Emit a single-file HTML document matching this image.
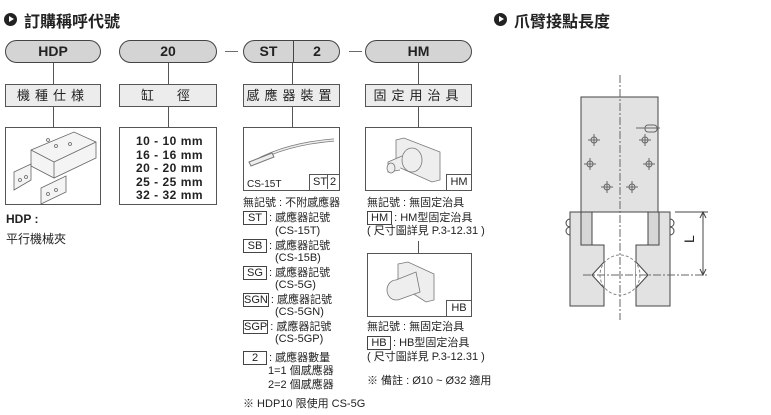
<!DOCTYPE html>
<html><head><meta charset="utf-8"><style>
body{margin:0;width:771px;height:415px;background:#fff;position:relative;overflow:hidden;font-family:"Liberation Sans","Noto Sans CJK TC",sans-serif;color:#222}
.a{position:absolute;white-space:nowrap}
.pill{position:absolute;height:23px;top:40px;background:#d4d4d4;border:1px solid #444;border-radius:12px;box-sizing:border-box;font-weight:bold;font-size:14px;text-align:center;line-height:21px}
.lab{position:absolute;top:84px;height:23px;background:#ececec;border:1px solid #555;box-sizing:border-box;font-size:13px;text-align:center;line-height:21px;letter-spacing:5px}
.box{position:absolute;border:1px solid #555;box-sizing:border-box;background:#fff}
.v{position:absolute;width:1px;background:#555}
.t{position:absolute;font-size:11px;white-space:nowrap;line-height:13px}
.k{display:inline-block;border:1px solid #444;padding:0 3px;min-width:16px;text-align:center;line-height:12px;margin-right:2px}
.ic{position:absolute;width:13px;height:13px;background:#222;border-radius:50%}
.ic:after{content:"";position:absolute;left:5px;top:3px;border-left:5px solid #fff;border-top:3.5px solid transparent;border-bottom:3.5px solid transparent}
</style></head><body>
<div class="ic" style="left:4px;top:13px"></div>
<div class="a" style="left:24px;top:8px;font-size:16px;font-weight:bold">訂購稱呼代號</div>
<div class="ic" style="left:494px;top:13px"></div>
<div class="a" style="left:514px;top:8px;font-size:16px;font-weight:bold">爪臂接點長度</div>

<div class="pill" style="left:5px;width:96px">HDP</div>
<div class="pill" style="left:119px;width:98px">20</div>
<div class="a" style="left:225px;top:43px;font-size:13px;color:#555">—</div>
<div class="pill" style="left:243px;width:97px"><span style="position:absolute;left:0;width:49px">ST</span><span style="position:absolute;left:49px;top:-1px;height:23px;border-left:1px solid #444"></span><span style="position:absolute;left:49px;width:48px">2</span></div>
<div class="a" style="left:349px;top:43px;font-size:13px;color:#555">—</div>
<div class="pill" style="left:365px;width:107px">HM</div>

<div class="v" style="left:53px;top:63px;height:64px"></div>
<div class="v" style="left:168px;top:63px;height:64px"></div>
<div class="v" style="left:292px;top:63px;height:64px"></div>
<div class="v" style="left:418px;top:63px;height:64px"></div>

<div class="lab" style="left:5px;width:96px">機種仕様</div>
<div class="lab" style="left:119px;width:98px">缸　徑</div>
<div class="lab" style="left:243px;width:97px">感應器裝置</div>
<div class="lab" style="left:365px;width:107px">固定用治具</div>

<div class="box" style="left:5px;top:127px;width:96px;height:78px">
<svg width="94" height="76" viewBox="0 0 94 76" fill="#f4f4f4" stroke="#666" stroke-width="0.8">
<polygon points="25,22 68,4 90,14 90,30 48,50 25,38"/><polygon points="8,44 25,36 25,52 8,62"/><polygon points="35,60 60,48 60,64 35,76"/><line x1="25" y1="22" x2="48" y2="34"/><line x1="48" y1="34" x2="90" y2="14"/><line x1="48" y1="34" x2="48" y2="50"/>
<circle cx="42" cy="12" r="1.5"/><circle cx="50" cy="18" r="1.5"/><circle cx="64" cy="16" r="1.5"/><circle cx="14" cy="52" r="1.5"/><circle cx="20" cy="49" r="1.5"/><circle cx="42" cy="66" r="1.5"/><circle cx="50" cy="62" r="1.5"/></svg></div>
<div class="box" style="left:119px;top:127px;width:98px;height:78px;font-size:12px;font-weight:bold;letter-spacing:0.5px;line-height:13.5px;padding:7px 0 0 16px">10 - 10 mm<br>16 - 16 mm<br>20 - 20 mm<br>25 - 25 mm<br>32 - 32 mm</div>
<div class="a" style="left:6px;top:212px;font-size:12px;font-weight:bold">HDP :</div>
<div class="a" style="left:6px;top:230px;font-size:12px">平行機械夾</div>

<div class="box" style="left:243px;top:127px;width:97px;height:64px">
<svg width="95" height="62" style="position:absolute;left:0;top:0" fill="none" stroke="#777" stroke-width="1"><path d="M8,35 Q40,16 90,12" stroke-width="3"/><path d="M8,35 Q40,16 90,12" stroke="#eee" stroke-width="1.5"/><polygon points="5,34 28,25 30,29 7,38" fill="#eee"/></svg>
<div class="t" style="left:3px;top:50px;font-size:10px">CS-15T</div>
<div style="position:absolute;right:-1px;bottom:-1px;width:29px;height:15px;border:1px solid #555;font-size:11px;line-height:14px"><span style="position:absolute;left:3px">ST</span><span style="position:absolute;left:17px;top:0;height:14px;border-left:1px solid #555;padding-left:2px">2</span></div></div>
<div class="box" style="left:365px;top:127px;width:107px;height:64px">
<svg width="105" height="62" style="position:absolute;left:0;top:0" fill="#eee" stroke="#777" stroke-width="0.8"><polygon points="30,12 38,10 74,24 74,52 66,54 30,38"/><ellipse cx="46" cy="32" rx="10" ry="12"/><path d="M36,28 L22,34 L22,44 L34,42"/><ellipse cx="25" cy="40" rx="4" ry="5"/></svg>
<div style="position:absolute;right:-1px;bottom:-1px;width:24px;height:15px;border:1px solid #555;font-size:11px;line-height:14px;text-align:center">HM</div></div>

<div class="t" style="left:243px;top:197px">無記號 : 不附感應器</div>
<div class="t" style="left:243px;top:211px"><span class="k">ST</span>: 感應器記號</div>
<div class="t" style="left:275px;top:225px">(CS-15T)</div>
<div class="t" style="left:243px;top:239px"><span class="k">SB</span>: 感應器記號</div>
<div class="t" style="left:275px;top:252px">(CS-15B)</div>
<div class="t" style="left:243px;top:266px"><span class="k">SG</span>: 感應器記號</div>
<div class="t" style="left:275px;top:279px">(CS-5G)</div>
<div class="t" style="left:243px;top:293px"><span class="k" style="padding:0">SGN</span>: 感應器記號</div>
<div class="t" style="left:275px;top:306px">(CS-5GN)</div>
<div class="t" style="left:243px;top:320px"><span class="k" style="padding:0">SGP</span>: 感應器記號</div>
<div class="t" style="left:275px;top:333px">(CS-5GP)</div>
<div class="t" style="left:243px;top:351px"><span class="k">2</span>: 感應器數量</div>
<div class="t" style="left:268px;top:365px">1=1 個感應器</div>
<div class="t" style="left:268px;top:379px">2=2 個感應器</div>
<div class="t" style="left:243px;top:398px">※ HDP10 限使用 CS-5G</div>

<div class="t" style="left:367px;top:197px">無記號 : 無固定治具</div>
<div class="t" style="left:367px;top:211px"><span class="k">HM</span>: HM型固定治具</div>
<div class="t" style="left:367px;top:225px">( 尺寸圖詳見 P.3-12.31 )</div>
<div class="v" style="left:418px;top:241px;height:12px"></div>
<div class="box" style="left:367px;top:253px;width:105px;height:64px">
<svg width="103" height="62" style="position:absolute;left:0;top:0" fill="#eee" stroke="#777" stroke-width="0.8"><polygon points="30,10 40,8 66,20 66,46 58,48 30,30"/><ellipse cx="28" cy="36" rx="9" ry="10"/><path d="M28,26 L48,18 L52,38 L30,46"/></svg>
<div style="position:absolute;right:-1px;bottom:-1px;width:24px;height:15px;border:1px solid #555;font-size:11px;line-height:14px;text-align:center">HB</div></div>
<div class="t" style="left:367px;top:321px">無記號 : 無固定治具</div>
<div class="t" style="left:367px;top:336px"><span class="k">HB</span>: HB型固定治具</div>
<div class="t" style="left:367px;top:351px">( 尺寸圖詳見 P.3-12.31 )</div>
<div class="t" style="left:367px;top:375px">※ 備註 : Ø10 ~ Ø32 適用</div>

<svg class="a" style="left:0;top:0" width="771" height="415" fill="none" stroke="#444" stroke-width="1">
<rect x="581" y="97" width="77" height="115" fill="#e2e2e2"/>
<path d="M570,212 H592 V245 H604 V306 H570 Z" fill="#e2e2e2"/>
<path d="M648,212 H670 V306 H636 V245 H648 Z" fill="#e2e2e2"/>
<rect x="581" y="212" width="11" height="33" fill="#d6d6d6"/><rect x="648" y="212" width="11" height="33" fill="#d6d6d6"/>
<path d="M604,262 L592,275 L604,288 M636,262 L648,275 L636,288" fill="#fff"/>
<circle cx="620" cy="275" r="20" stroke="#888" stroke-dasharray="3,2"/>
<path d="M570,219 a4,4 0 0 0 0,8 M570,227 a4,4 0 0 0 0,8 M670,219 a4,4 0 0 1 0,8 M670,227 a4,4 0 0 1 0,8"/>
<line x1="620" y1="75" x2="620" y2="320" stroke="#666" stroke-dasharray="8,2,2,2"/>
<line x1="583" y1="275" x2="708" y2="275" stroke="#666" stroke-dasharray="8,2,2,2"/>
<line x1="675" y1="212" x2="708" y2="212"/>
<line x1="703" y1="212" x2="703" y2="275"/>
<path d="M700,218 L703,212 L706,218 M700,269 L703,275 L706,269"/>
<text x="694" y="243" font-size="14" fill="#222" stroke="none" transform="rotate(-90 694 243)" font-family="Liberation Sans">L</text>
<g stroke="#666"><circle cx="594" cy="140" r="3"/><path d="M588,140h12M594,134v12"/>
<circle cx="645" cy="140" r="3"/><path d="M639,140h12M645,134v12"/>
<circle cx="590" cy="164" r="3"/><path d="M584,164h12M590,158v12"/>
<circle cx="649" cy="164" r="3"/><path d="M643,164h12M649,158v12"/>
<circle cx="607" cy="187" r="3"/><path d="M601,187h12M607,181v12"/>
<circle cx="632" cy="187" r="3"/><path d="M626,187h12M632,181v12"/>
<rect x="645" y="125" width="12" height="7" rx="3"/><path d="M636,128h24"/></g>
</svg>
</body></html>
